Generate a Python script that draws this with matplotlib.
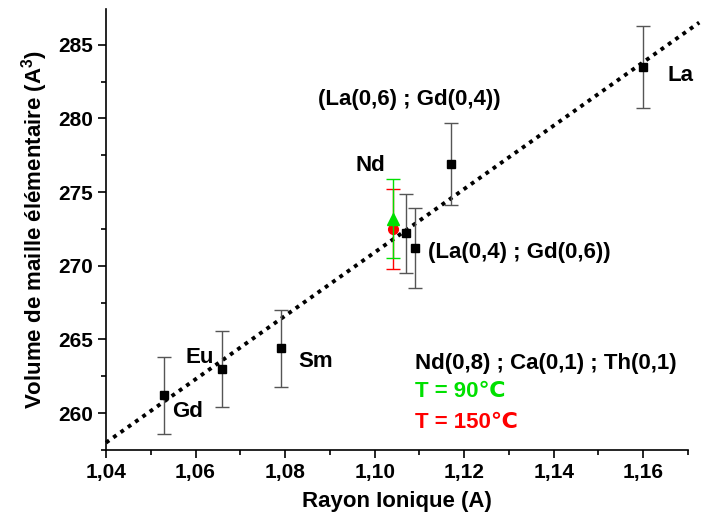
import numpy as np
import matplotlib
matplotlib.use('Agg')
import matplotlib.pyplot as plt
from matplotlib.ticker import MultipleLocator, FuncFormatter

plt.rcParams['font.family'] = ['Liberation Sans', 'DejaVu Sans']
plt.rcParams['font.weight'] = 'bold'
plt.rcParams['mathtext.fontset'] = 'custom'
plt.rcParams['mathtext.rm'] = 'Liberation Sans:bold'
plt.rcParams['mathtext.default'] = 'rm'

# black series (Gd, Eu, Sm, mixed, La)
rayon = [1.053, 1.066, 1.079, 1.107, 1.109, 1.117, 1.160]
volume = [261.2, 263.0, 264.4, 272.2, 271.2, 276.9, 283.5]
erreur = [2.6, 2.6, 2.6, 2.7, 2.7, 2.8, 2.8]

# Nd at two temperatures
nd_rayon = 1.104
nd_90 = 273.2
nd_90_err = 2.7
nd_150 = 272.5
nd_150_err = 2.7

# linear fit
fit_slope = 215.1
fit_x0 = 1.04
fit_y0 = 258.0

fig = plt.figure(figsize=(7.01, 5.31), dpi=100)
ax = fig.add_axes([0.1512, 0.1525, 0.8303, 0.83])

xf = np.array([1.04, 1.1725])
ax.plot(xf, fit_y0 + fit_slope * (xf - fit_x0), color='k', linestyle=(0, (1, 1.3)),
        linewidth=2.8, clip_on=False, zorder=1)

ax.errorbar(rayon, volume, yerr=erreur, fmt='s', color='k', ecolor='#555555',
            markersize=6, capsize=5, capthick=1, elinewidth=1, zorder=3)
ax.errorbar([nd_rayon], [nd_150], yerr=[nd_150_err], fmt='o', color='#ff0000',
            markersize=7, capsize=5, capthick=1, elinewidth=1, zorder=4)
ax.errorbar([nd_rayon], [nd_90], yerr=[nd_90_err], fmt='^', color='#00e000',
            markersize=8, capsize=5, capthick=1, elinewidth=1, zorder=5)

ax.set_xlim(1.04, 1.17)
ax.set_ylim(257.5, 287.4)
ax.xaxis.set_major_locator(MultipleLocator(0.02))
ax.xaxis.set_minor_locator(MultipleLocator(0.01))
ax.yaxis.set_major_locator(MultipleLocator(5))
ax.yaxis.set_minor_locator(MultipleLocator(2.5))
ax.xaxis.set_major_formatter(FuncFormatter(lambda v, p: ('%.2f' % v).replace('.', ',')))
ax.spines['top'].set_visible(False)
ax.spines['right'].set_visible(False)
for s in ['left', 'bottom']:
    ax.spines[s].set_linewidth(1.2)
ax.tick_params(which='major', direction='out', length=6, width=1.2, labelsize=15)
ax.tick_params(which='minor', direction='out', length=3.5, width=1.2)

ax.set_xlabel('Rayon Ionique (A)', fontsize=16, fontweight='bold', labelpad=6)
ax.set_ylabel(r'Volume de maille élémentaire (A$^{3}$)', fontsize=16,
              fontweight='bold', labelpad=6)

fs = 16
ax.text(1.0547, 260.1, 'Gd', fontsize=fs, ha='left', va='center')
ax.text(1.0577, 263.75, 'Eu', fontsize=fs, ha='left', va='center')
ax.text(1.0829, 263.5, 'Sm', fontsize=fs, ha='left', va='center')
ax.text(1.1654, 282.9, 'La', fontsize=fs, ha='left', va='center')
ax.text(1.1023, 276.8, 'Nd', fontsize=fs, ha='right', va='center')
ax.text(1.0874, 281.3, '(La(0,6) ; Gd(0,4))', fontsize=fs, ha='left', va='center')
ax.text(1.112, 270.9, '(La(0,4) ; Gd(0,6))', fontsize=fs, ha='left', va='center')
ax.text(1.109, 263.4, 'Nd(0,8) ; Ca(0,1) ; Th(0,1)', fontsize=fs, ha='left', va='center')
ax.text(1.109, 261.45, 'T = 90℃', fontsize=fs, ha='left', va='center', color='#00e000')
ax.text(1.109, 259.4, 'T = 150℃', fontsize=fs, ha='left', va='center', color='#ff0000')

fig.savefig('out.png', dpi=100)
